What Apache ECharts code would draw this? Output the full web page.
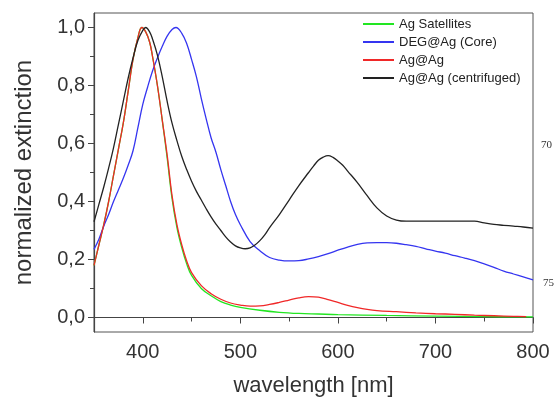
<!DOCTYPE html>
<html><head><meta charset="utf-8">
<script src="https://cdn.jsdelivr.net/npm/echarts@6/dist/echarts.min.js"></script>
<style>html,body{margin:0;padding:0;background:#fff}#c{width:555px;height:402px}</style>
</head><body><div id="c"></div>
<script>
const xLabels = [400, 500, 600, 700, 800];
const xTicks = [350, 450, 550, 650, 750];
const yLabels = [0, 0.2, 0.4, 0.6, 0.8, 1.0];
const yMinor = [0.1, 0.3, 0.5, 0.7, 0.9];

const seriesNames = ['Ag Satellites', 'DEG@Ag (Core)', 'Ag@Ag', 'Ag@Ag (centrifuged)'];

const agSatellites = [
  [350,0.18],[355,0.25],[360,0.32],[365,0.40],[370,0.49],[375,0.58],[380,0.67],[385,0.78],[390,0.89],[395,0.965],[399,1.0],
  [403,0.985],[407,0.95],[410,0.90],[415,0.80],[420,0.68],[425,0.55],[430,0.41],[435,0.31],[440,0.24],[445,0.185],[450,0.145],
  [460,0.10],[470,0.075],[480,0.055],[490,0.043],[500,0.035],[520,0.025],[540,0.018],[560,0.014],[580,0.012],[600,0.01],
  [650,0.007],[700,0.005],[750,0.003],[800,0.002]
];
const degCore = [
  [350,0.235],[355,0.27],[360,0.315],[365,0.355],[370,0.40],[375,0.44],[380,0.48],[385,0.525],[390,0.575],[395,0.655],[400,0.735],
  [405,0.795],[410,0.85],[415,0.895],[420,0.935],[425,0.97],[430,0.993],[434,1.0],[440,0.98],[445,0.945],[450,0.89],[455,0.83],
  [460,0.755],[465,0.685],[470,0.62],[475,0.57],[480,0.51],[485,0.455],[490,0.40],[495,0.355],[500,0.32],[510,0.262],[520,0.23],
  [530,0.207],[540,0.198],[550,0.195],[560,0.196],[570,0.202],[580,0.21],[590,0.22],[600,0.232],[610,0.243],[620,0.252],
  [630,0.257],[640,0.258],[650,0.258],[660,0.256],[670,0.251],[680,0.245],[690,0.237],[700,0.229],[710,0.222],[720,0.213],
  [730,0.205],[740,0.196],[750,0.185],[760,0.173],[770,0.16],[780,0.15],[790,0.14],[800,0.13]
];
const agAg = [
  [350,0.18],[355,0.25],[360,0.32],[365,0.40],[370,0.49],[375,0.58],[380,0.67],[385,0.78],[390,0.89],[395,0.965],[399,1.0],
  [403,0.985],[407,0.95],[410,0.90],[415,0.80],[420,0.68],[425,0.56],[430,0.42],[435,0.32],[440,0.25],[445,0.195],[450,0.155],
  [460,0.11],[470,0.082],[480,0.063],[490,0.05],[500,0.043],[510,0.039],[520,0.04],[530,0.045],[540,0.052],[550,0.06],
  [560,0.068],[570,0.072],[580,0.07],[590,0.062],[600,0.052],[610,0.042],[620,0.034],[630,0.028],[640,0.024],[660,0.02],
  [680,0.016],[700,0.013],[720,0.011],[740,0.008],[760,0.006],[780,0.004],[793,0.003]
];
const agAgCentrifuged = [
  [350,0.33],[355,0.39],[360,0.45],[365,0.515],[370,0.585],[375,0.665],[380,0.745],[385,0.825],[390,0.895],[395,0.955],[400,0.99],
  [403,1.0],[407,0.985],[410,0.96],[415,0.905],[420,0.83],[425,0.745],[430,0.67],[435,0.61],[440,0.555],[445,0.51],[450,0.47],
  [455,0.435],[460,0.405],[465,0.375],[470,0.347],[475,0.322],[480,0.30],[485,0.278],[490,0.26],[495,0.247],[500,0.24],
  [505,0.237],[510,0.24],[515,0.25],[520,0.265],[525,0.285],[530,0.31],[540,0.355],[550,0.405],[560,0.455],[570,0.50],
  [575,0.522],[580,0.542],[585,0.553],[590,0.558],[595,0.552],[600,0.54],[605,0.525],[610,0.505],[620,0.465],[630,0.42],
  [640,0.378],[650,0.35],[660,0.336],[670,0.332],[700,0.332],[740,0.332],[750,0.326],[760,0.321],[770,0.318],[780,0.315],
  [790,0.312],[800,0.308]
];
const seriesData = [agSatellites, degCore, agAg, agAgCentrifuged];
const colors = ['#22e622', '#3535f0', '#f02828', '#222222'];

const chart = echarts.init(document.getElementById('c'));
const axisCol = '#444';
const fnt = 'Liberation Sans, Arial, sans-serif';
const series = [];
const order = [2, 0, 1, 3];
order.forEach(i => series.push({
  name: seriesNames[i], type: 'line', data: seriesData[i], showSymbol: false, smooth: 0.4,
  lineStyle: { color: colors[i], width: 1.3 }, itemStyle: { color: colors[i] }, z: 3 + i
}));
chart.setOption({
  animation: false,
  grid: { left: 94, right: 22, top: 13, bottom: 67, show: true, borderColor: '#555', borderWidth: 1 },
  legend: {
    data: seriesNames, orient: 'vertical', left: 363, top: 17, padding: 0, itemWidth: 31, itemHeight: 2, itemGap: 4,
    icon: 'rect', textStyle: { fontSize: 13, lineHeight: 14, color: '#222', fontFamily: fnt }
  },
  xAxis: [{
    type: 'value', min: 350, max: 800, name: 'wavelength [nm]', nameLocation: 'middle', nameGap: 43,
    nameTextStyle: { fontSize: 22, color: '#333', fontFamily: fnt },
    axisLine: { lineStyle: { color: axisCol, width: 1.2 } },
    axisTick: { show: true, length: 6, customValues: xLabels, lineStyle: { color: axisCol } },
    axisLabel: { customValues: xLabels, fontSize: 20, color: '#333', margin: 10, fontFamily: fnt },
    splitLine: { show: false }
  }, {
    type: 'value', min: 350, max: 800, position: 'bottom',
    axisLine: { show: false },
    axisTick: { show: true, length: 4, customValues: xTicks, lineStyle: { color: axisCol } },
    axisLabel: { show: false }, splitLine: { show: false }
  }],
  yAxis: [{
    type: 'value', min: -0.05, max: 1.05, name: 'normalized extinction', nameLocation: 'middle', nameGap: 58,
    nameTextStyle: { fontSize: 24, color: '#333', fontFamily: fnt },
    axisLine: { show: true, lineStyle: { color: axisCol, width: 1.2 } },
    axisTick: { show: true, length: 6, customValues: yLabels, lineStyle: { color: axisCol } },
    axisLabel: { customValues: yLabels, fontSize: 20, color: '#333', margin: 9, fontFamily: fnt,
      formatter: v => v.toFixed(1).replace('.', ',') },
    splitLine: { show: false }
  }, {
    type: 'value', min: -0.05, max: 1.05, position: 'left',
    axisLine: { show: false },
    axisTick: { show: true, length: 4, customValues: yMinor, lineStyle: { color: axisCol } },
    axisLabel: { show: false }, splitLine: { show: false }
  }],
  graphic: [
    { type: 'text', left: 541, top: 140, style: { text: '70', fontSize: 11, fontFamily: 'Liberation Serif, serif', fill: '#333' } },
    { type: 'text', left: 543, top: 278, style: { text: '75', fontSize: 11, fontFamily: 'Liberation Serif, serif', fill: '#333' } }
  ],
  series: series
});
</script></body></html>
